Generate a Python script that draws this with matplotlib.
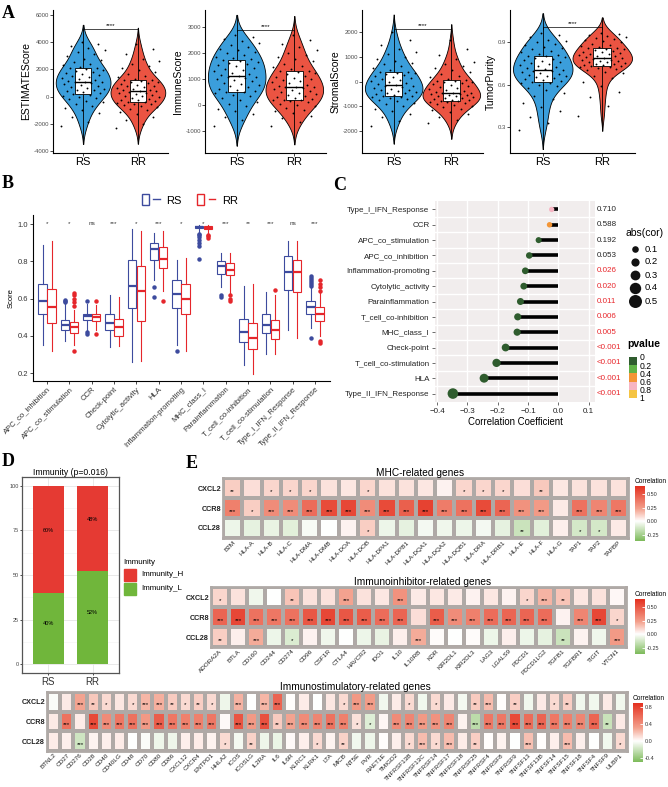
import numpy as np
import pandas as pd
import matplotlib
matplotlib.use('Agg')
import matplotlib.pyplot as plt
import seaborn as sns
from matplotlib.colors import LinearSegmentedColormap, Normalize, ListedColormap, BoundaryNorm
from matplotlib.patches import Patch, Rectangle
from matplotlib.lines import Line2D
from matplotlib.legend_handler import HandlerTuple
from matplotlib.cm import ScalarMappable
import matplotlib.transforms as mtransforms

plt.rcParams['font.family'] = ['Liberation Sans', 'DejaVu Sans']

# ---------------- Panel A data ----------------
estimate_rs = [-2200, -1900, -1500, -1200, -1000, -850, -700, -550, -400, -300, -200, -100, 0, 80, 150,
               200, 260, 320, 390, 450, 520, 580, 650, 710, 780, 850, 910, 980, 1040, 1080,
               1100, 1170, 1240, 1310, 1380, 1450, 1520, 1590, 1660, 1730, 1800, 1870, 1940, 2010, 2080,
               2100, 2200, 2300, 2420, 2550, 2680, 2800, 2950, 3100, 3250, 3400, 3550, 3700, 3850, 4000]
estimate_rr = [-2300, -2000, -1750, -1500, -1300, -1150, -1000, -900, -800, -720, -650, -580, -520, -470, -420,
               -400, -340, -280, -220, -160, -100, -40, 20, 80, 140, 200, 250, 300, 340, 380,
               400, 450, 510, 570, 630, 690, 750, 810, 870, 930, 990, 1050, 1100, 1150, 1190,
               1200, 1300, 1420, 1550, 1680, 1800, 1950, 2100, 2250, 2400, 2600, 2800, 3100, 3500, 3900]
immune_rs = [-800, -600, -450, -350, -250, -150, -50, 50, 130, 200, 270, 330, 390, 440, 480,
             500, 540, 580, 620, 670, 710, 760, 800, 850, 900, 940, 980, 1020, 1060, 1090,
             1100, 1150, 1200, 1240, 1290, 1340, 1390, 1430, 1480, 1530, 1580, 1620, 1660, 1700, 1740,
             1750, 1800, 1860, 1920, 1980, 2040, 2100, 2160, 2230, 2300, 2380, 2450, 2530, 2620, 2700]
immune_rr = [-800, -650, -520, -420, -330, -250, -180, -110, -50, 0, 50, 100, 140, 170, 190,
             200, 240, 270, 310, 350, 390, 430, 470, 510, 550, 590, 620, 650, 680, 695,
             700, 740, 780, 830, 870, 910, 960, 1000, 1040, 1090, 1130, 1170, 1210, 1250, 1290,
             1300, 1370, 1440, 1510, 1590, 1670, 1750, 1830, 1920, 2010, 2110, 2220, 2350, 2500, 2700]
stromal_rs = [-1800, -1600, -1450, -1300, -1200, -1100, -1000, -930, -870, -810, -760, -710, -670, -640, -615,
              -600, -570, -540, -510, -480, -450, -420, -390, -360, -330, -300, -260, -220, -190, -165,
              -150, -110, -70, -30, 10, 50, 90, 130, 170, 210, 250, 290, 330, 360, 390,
              400, 470, 540, 610, 690, 770, 850, 930, 1010, 1100, 1200, 1320, 1480, 1700, 2000]
stromal_rr = [-1700, -1550, -1420, -1320, -1240, -1170, -1110, -1050, -1000, -960, -920, -880, -850, -830, -810,
              -800, -770, -740, -710, -680, -650, -620, -600, -580, -560, -540, -520, -500, -480, -460,
              -450, -410, -370, -330, -290, -250, -210, -170, -130, -90, -60, -30, 0, 20, 40,
              50, 110, 170, 240, 310, 380, 450, 530, 610, 700, 800, 920, 1080, 1300, 1700]
purity_rs = [0.28, 0.33, 0.37, 0.41, 0.44, 0.47, 0.50, 0.52, 0.54, 0.56, 0.575, 0.59, 0.60, 0.61, 0.615,
             0.62, 0.627, 0.633, 0.64, 0.646, 0.652, 0.658, 0.665, 0.671, 0.677, 0.683, 0.69, 0.695, 0.70, 0.705,
             0.71, 0.717, 0.724, 0.731, 0.738, 0.745, 0.752, 0.759, 0.766, 0.773, 0.78, 0.787, 0.794, 0.80, 0.805,
             0.81, 0.82, 0.83, 0.84, 0.85, 0.86, 0.87, 0.88, 0.89, 0.90, 0.91, 0.92, 0.935, 0.95, 0.97]
purity_rr = [0.38, 0.45, 0.51, 0.55, 0.59, 0.62, 0.645, 0.665, 0.68, 0.693, 0.703, 0.711, 0.718, 0.723, 0.727,
             0.73, 0.734, 0.738, 0.742, 0.746, 0.75, 0.754, 0.758, 0.762, 0.766, 0.77, 0.774, 0.778, 0.782, 0.786,
             0.79, 0.795, 0.80, 0.805, 0.81, 0.815, 0.82, 0.825, 0.83, 0.835, 0.84, 0.845, 0.85, 0.855, 0.858,
             0.86, 0.868, 0.876, 0.884, 0.892, 0.90, 0.908, 0.916, 0.924, 0.932, 0.94, 0.948, 0.955, 0.962, 0.97]
a_names = ['ESTIMATEScore', 'ImmuneScore', 'StromalScore', 'TumorPurity']
a_ticks = [[-4000, -2000, 0, 2000, 4000, 6000], [-1000, 0, 1000, 2000, 3000],
           [-2000, -1000, 0, 1000, 2000], [0.3, 0.6, 0.9]]
a_sig_y = [5000, 2890, 2130, 1.01]

# ---------------- Panel B data (box summaries) ----------------
b_terms = ['APC_co_inhibition', 'APC_co_stimulation', 'CCR', 'Check-point', 'Cytolytic_activity', 'HLA',
           'Inflammation-promoting', 'MHC_class_I', 'Parainflammation', 'T_cell_co-inhibition',
           'T_cell_co-stimulation', 'Type_I_IFN_Response', 'Type_II_IFN_Response']
rs_med = [0.585, 0.46, 0.505, 0.47, 0.67, 0.865, 0.625, 0.985, 0.775, 0.42, 0.46, 0.745, 0.555]
rs_q1 = [0.515, 0.43, 0.485, 0.43, 0.55, 0.81, 0.55, 0.978, 0.735, 0.365, 0.415, 0.645, 0.52]
rs_q3 = [0.68, 0.485, 0.52, 0.515, 0.81, 0.90, 0.70, 0.99, 0.80, 0.49, 0.52, 0.83, 0.59]
rs_lo = [0.35, 0.37, 0.43, 0.34, 0.26, 0.70, 0.35, 0.96, 0.66, 0.245, 0.30, 0.43, 0.44]
rs_hi = [0.89, 0.57, 0.57, 0.62, 0.975, 0.955, 0.81, 0.995, 0.845, 0.67, 0.635, 0.91, 0.66]
rs_out = [[], [0.58, 0.59, 0.595], [0.41, 0.42, 0.59], [], [], [0.665, 0.61], [0.32],
          [0.95, 0.94, 0.93, 0.915, 0.90, 0.885, 0.815], [0.62, 0.61], [], [], [],
          [0.67, 0.68, 0.69, 0.70, 0.71, 0.72, 0.39]]
rr_med = [0.555, 0.45, 0.50, 0.445, 0.64, 0.815, 0.60, 0.98, 0.755, 0.39, 0.43, 0.745, 0.52]
rr_q1 = [0.47, 0.415, 0.48, 0.40, 0.48, 0.765, 0.52, 0.972, 0.725, 0.33, 0.385, 0.635, 0.48]
rr_q3 = [0.65, 0.475, 0.52, 0.49, 0.775, 0.88, 0.68, 0.99, 0.79, 0.47, 0.485, 0.81, 0.555]
rr_lo = [0.32, 0.35, 0.43, 0.345, 0.265, 0.64, 0.32, 0.955, 0.63, 0.195, 0.30, 0.39, 0.40]
rr_hi = [0.91, 0.54, 0.565, 0.61, 0.965, 0.965, 0.82, 0.995, 0.845, 0.68, 0.62, 0.91, 0.63]
rr_out = [[], [0.56, 0.58, 0.60, 0.62, 0.63, 0.32], [0.41, 0.585], [], [], [0.59], [],
          [0.945, 0.935, 0.925], [0.62, 0.60, 0.585], [], [0.645], [],
          [0.64, 0.66, 0.68, 0.70, 0.36, 0.37]]
b_sig = ['*', '*', 'ns', '***', '*', '***', '*', '*', '***', '**', '***', 'ns', '***']

# ---------------- Panel C data ----------------
c_terms = ['Type_I_IFN_Response', 'CCR', 'APC_co_stimulation', 'APC_co_inhibition', 'Inflammation-promoting',
           'Cytolytic_activity', 'Parainflammation', 'T_cell_co-inhibition', 'MHC_class_I', 'Check-point',
           'T_cell_co-stimulation', 'HLA', 'Type_II_IFN_Response']
c_cor = [-0.022, -0.029, -0.065, -0.096, -0.109, -0.114, -0.125, -0.134, -0.136, -0.174, -0.204, -0.245, -0.348]
c_pval = [0.710, 0.588, 0.192, 0.053, 0.026, 0.020, 0.011, 0.006, 0.005, 0.001, 0.001, 0.001, 0.001]
c_ptext = ['0.710', '0.588', '0.192', '0.053', '0.026', '0.020', '0.011', '0.006', '0.005',
           '<0.001', '<0.001', '<0.001', '<0.001']

# ---------------- Panel D data ----------------
d_groups = ['RS', 'RR']
d_high = [60, 48]
d_low = [40, 52]
d_high_txt = ['60%', '48%']
d_low_txt = ['40%', '52%']

# ---------------- Panel E data ----------------
e_rows = ['CXCL2', 'CCR8', 'CCL28']
mhc_genes = ['B2M', 'HLA-A', 'HLA-B', 'HLA-C', 'HLA-DMA', 'HLA-DMB', 'HLA-DOA', 'HLA-DOB', 'HLA-DPA1',
             'HLA-DPB1', 'HLA-DQA1', 'HLA-DQA2', 'HLA-DQB1', 'HLA-DRA', 'HLA-DRB1', 'HLA-E', 'HLA-F',
             'HLA-G', 'TAP1', 'TAP2', 'TAPBP']
mhc_cxcl2 = [0.12, 0.08, 0.10, 0.10, 0.10, 0.07, 0.06, 0.10, 0.07, 0.07, 0.06, 0.03, 0.10, 0.10, 0.10,
             0.08, 0.13, 0.06, 0.07, 0.07, 0.07]
mhc_ccr8 = [0.35, 0.12, 0.30, 0.30, 0.42, 0.55, 0.56, 0.30, 0.55, 0.47, 0.58, 0.36, 0.40, 0.55, 0.45,
            0.28, 0.25, 0.05, 0.40, 0.33, 0.38]
mhc_ccl28 = [-0.05, -0.07, -0.06, -0.08, -0.02, 0.0, 0.03, 0.12, -0.05, -0.07, -0.03, -0.04, -0.05, -0.03,
             -0.07, -0.15, -0.08, 0.04, -0.12, -0.12, 0.05]
mhc_cxcl2_sig = ['**', '', '*', '*', '*', '', '', '*', '', '', '', '', '*', '*', '*', '', '**', '', '', '', '']
mhc_ccr8_sig = ['***', '*', '***', '***', '***', '***', '***', '***', '***', '***', '***', '***', '***',
                '***', '***', '***', '***', '', '***', '***', '***']
mhc_ccl28_sig = ['', '', '', '', '', '', '', '*', '', '', '', '', '', '', '', '**', '', '', '*', '*', '']

inh_genes = ['ADORA2A', 'BTLA', 'CD160', 'CD244', 'CD274', 'CD96', 'CSF1R', 'CTLA4', 'HAVCR2', 'IDO1',
             'IL10', 'IL10RB', 'KDR', 'KIR2DL1', 'KIR2DL3', 'LAG3', 'LGALS9', 'PDCD1', 'PDCD1LG2', 'TGFB1',
             'TGFBR1', 'TIGIT', 'VTCN1']
inh_cxcl2 = [0.10, 0.07, -0.04, 0.0, 0.14, 0.07, 0.07, 0.22, 0.07, 0.06, 0.28, 0.05, 0.06, 0.05, 0.03,
             0.06, 0.03, 0.10, 0.18, 0.14, 0.06, 0.07, 0.02]
inh_ccr8 = [0.45, 0.56, 0.40, 0.38, 0.40, 0.50, 0.56, 0.50, 0.48, 0.42, 0.45, 0.08, 0.48, 0.30, 0.35,
            0.42, 0.45, 0.45, 0.42, 0.03, 0.33, 0.56, 0.10]
inh_ccl28 = [0.12, 0.04, 0.20, -0.05, -0.10, 0.03, -0.04, 0.0, -0.05, -0.06, 0.04, 0.20, 0.01, 0.0, 0.01,
             -0.05, 0.04, -0.05, -0.07, -0.15, 0.03, -0.04, 0.25]
inh_cxcl2_sig = ['*', '', '', '', '**', '', '', '***', '', '', '***', '', '', '', '', '', '', '*', '***',
                 '**', '', '', '']
inh_ccr8_sig = ['***', '***', '***', '***', '***', '***', '***', '***', '***', '***', '***', '', '***',
                '***', '***', '***', '***', '***', '***', '', '***', '***', '*']
inh_ccl28_sig = ['**', '', '***', '', '*', '', '', '', '', '', '', '***', '', '', '', '', '', '', '',
                 '**', '', '', '***']

stim_genes = ['BTNL2', 'CD27', 'CD276', 'CD28', 'CD40', 'CD40LG', 'CD48', 'CD70', 'CD80', 'CD86', 'CXCL12',
              'CXCR4', 'ENTPD1', 'HHLA2', 'ICOS', 'ICOSLG', 'IL2RA', 'IL6', 'IL6R', 'KLRC1', 'KLRK1', 'LTA',
              'MICB', 'NT5E', 'PVR', 'RAET1E', 'TMIGD2', 'TNFRSF13B', 'TNFRSF13C', 'TNFRSF14', 'TNFRSF17',
              'TNFRSF18', 'TNFRSF25', 'TNFRSF4', 'TNFRSF8', 'TNFRSF9', 'TNFSF13', 'TNFSF13B', 'TNFSF14',
              'TNFSF15', 'TNFSF18', 'TNFSF4', 'TNFSF9', 'ULBP1']
stim_cxcl2 = [-0.02, 0.07, 0.30, 0.18, 0.12, 0.08, 0.12, 0.24, 0.26, 0.17, 0.12, 0.16, 0.12, -0.06, 0.25,
              0.0, 0.24, 0.62, 0.01, 0.06, 0.0, 0.08, 0.12, 0.35, 0.33, -0.05, 0.06, 0.12, -0.05, 0.12,
              0.07, -0.04, 0.17, 0.22, 0.01, 0.16, -0.05, 0.07, 0.12, 0.16, -0.05, -0.05, 0.07, -0.05]
stim_ccr8 = [0.07, 0.55, 0.06, 0.75, 0.42, 0.52, 0.55, 0.35, 0.65, 0.52, 0.48, 0.48, 0.52, 0.02, 0.70,
             0.35, 0.72, 0.17, 0.30, 0.42, 0.45, 0.55, 0.48, 0.10, -0.12, 0.03, 0.42, 0.45, 0.35, 0.38,
             0.45, 0.04, -0.25, 0.52, 0.52, 0.75, 0.58, 0.62, 0.52, 0.48, 0.45, 0.62, -0.20, 0.07]
stim_ccl28 = [0.06, 0.05, -0.18, 0.04, 0.05, 0.06, 0.0, -0.02, -0.06, -0.06, 0.05, 0.06, 0.04, 0.12, -0.04,
              0.15, -0.06, -0.07, 0.02, 0.05, 0.12, 0.04, 0.15, -0.05, -0.06, 0.01, 0.05, 0.12, 0.22, 0.12,
              0.22, 0.06, 0.16, 0.01, 0.04, 0.0, 0.21, 0.01, 0.05, 0.22, 0.05, 0.0, -0.05, 0.12]
stim_cxcl2_sig = ['', '', '***', '**', '*', '', '*', '***', '***', '**', '*', '**', '*', '', '***', '',
                  '***', '***', '', '', '', '', '*', '***', '***', '', '', '*', '', '*', '', '', '**',
                  '***', '', '**', '', '', '*', '**', '', '', '', '']
stim_ccr8_sig = ['', '***', '', '***', '***', '***', '***', '***', '***', '***', '***', '***', '***', '',
                 '***', '***', '***', '**', '***', '***', '***', '***', '***', '*', '*', '', '***', '***',
                 '***', '***', '***', '', '***', '***', '***', '***', '***', '***', '***', '***', '***',
                 '***', '**', '']
stim_ccl28_sig = ['', '', '***', '', '', '', '', '', '', '', '', '', '', '*', '', '**', '', '', '', '',
                  '*', '', '**', '', '', '', '', '*', '***', '*', '***', '', '**', '', '', '', '***', '',
                  '', '***', '', '', '', '*']

# ---------------- layout helpers ----------------
W, H = 668, 787
fig = plt.figure(figsize=(W / 100, H / 100), dpi=100)


def box(l, t, r, b):
    return [l / W, 1 - b / H, (r - l) / W, (b - t) / H]


a_blue, a_red = '#3B9EDB', '#EB5442'
b_blue, b_red = '#3D4B9E', '#E5262B'
grid_gray = '#AFA9A6'

# ---------------- Panel A ----------------
a_pos = [(53, 10, 168, 153), (205, 10, 326, 153), (362, 10, 483, 153), (510, 10, 635, 153)]
a_ylim = [(-4150, 6370), (-1850, 3650), (-2900, 2900), (0.115, 1.13)]
a_rs = [estimate_rs, immune_rs, stromal_rs, purity_rs]
a_rr = [estimate_rr, immune_rr, stromal_rr, purity_rr]
for k in range(4):
    ax = fig.add_axes(box(*a_pos[k]))
    rs, rr = a_rs[k], a_rr[k]
    df = pd.DataFrame({'grp': ['RS'] * len(rs) + ['RR'] * len(rr), 'val': rs + rr})
    sns.violinplot(data=df, x='grp', y='val', hue='grp', order=['RS', 'RR'], hue_order=['RS', 'RR'],
                   palette={'RS': a_blue, 'RR': a_red}, saturation=1, inner=None, cut=2, width=1.0,
                   density_norm='width', linewidth=0.6, linecolor='black', legend=False, ax=ax)
    for pc in list(ax.collections):
        verts = pc.get_paths()[0].vertices
        pos = int(round(verts[:, 0].mean()))
        ax.vlines(pos, verts[:, 1].min(), verts[:, 1].max(), color='black', lw=0.6, zorder=2)
    ax.boxplot([rs, rr], positions=[0, 1], widths=0.3, whis=0, showfliers=False, showcaps=False,
               patch_artist=True, manage_ticks=False, zorder=3,
               boxprops=dict(facecolor='white', edgecolor='black', linewidth=0.6),
               medianprops=dict(color='black', linewidth=1.0),
               whiskerprops=dict(linewidth=0))
    for i, vals in enumerate([rs, rr]):
        jit = ((np.arange(len(vals)) * 0.618034) % 1.0 - 0.5) * 0.8
        ax.scatter(i + jit, vals, s=1.8, color='black', lw=0, zorder=4)
    lo, hi = a_ylim[k]
    span = hi - lo
    y0 = a_sig_y[k]
    ax.plot([0, 0, 1, 1], [y0 - 0.012 * span, y0, y0, y0 - 0.012 * span], color='black', lw=0.5)
    ax.text(0.5, y0 + 0.004 * span, '****', ha='center', va='bottom', fontsize=4.5)
    ax.set_xlim(-0.55, 1.55)
    ax.set_ylim(lo, hi)
    ax.set_yticks(a_ticks[k])
    ax.set_yticklabels([str(t) for t in a_ticks[k]])
    ax.set_xticks([0, 1])
    ax.set_xticklabels(['RS', 'RR'], fontsize=8)
    ax.set_xlabel('')
    ax.set_ylabel(a_names[k], fontsize=7.5, labelpad=1.5)
    for s in ['top', 'right']:
        ax.spines[s].set_visible(False)
    for s in ['left', 'bottom']:
        ax.spines[s].set_linewidth(0.8)
    ax.tick_params(axis='y', labelsize=4.3, labelcolor='#4D4D4D', length=2, width=0.5, pad=1)
    ax.tick_params(axis='x', length=2, width=0.5, pad=1)

# ---------------- Panel B ----------------
axb = fig.add_axes(box(33, 215, 330, 381))
xs = np.arange(len(b_terms))


def make_stats(med, q1, q3, lo, hi, out):
    return [dict(med=m, q1=a, q3=b, whislo=l, whishi=h, fliers=f)
            for m, a, b, l, h, f in zip(med, q1, q3, lo, hi, out)]


for stats, off, col in [(make_stats(rs_med, rs_q1, rs_q3, rs_lo, rs_hi, rs_out), -0.2, b_blue),
                        (make_stats(rr_med, rr_q1, rr_q3, rr_lo, rr_hi, rr_out), 0.2, b_red)]:
    axb.bxp(stats, positions=xs + off, widths=0.38, patch_artist=True, showcaps=False, manage_ticks=False,
            boxprops=dict(facecolor='white', edgecolor=col, linewidth=0.8),
            medianprops=dict(color=col, linewidth=1.6),
            whiskerprops=dict(color=col, linewidth=0.8),
            flierprops=dict(marker='o', markerfacecolor=col, markeredgecolor=col, markersize=2.2))
for i, s in enumerate(b_sig):
    axb.text(i, 0.998, s, ha='center', va='baseline', fontsize=4.6, color='#333333')
axb.set_xlim(-0.63, 12.67)
axb.set_ylim(0.157, 1.05)
axb.set_yticks([0.2, 0.4, 0.6, 0.8, 1.0])
axb.set_yticklabels(['0.2', '0.4', '0.6', '0.8', '1.0'])
axb.set_xticks(xs)
axb.set_xticklabels(b_terms, rotation=45, ha='right', rotation_mode='anchor', fontsize=5.6)
axb.set_ylabel('Score', fontsize=5.5, labelpad=2)
for s in ['top', 'right']:
    axb.spines[s].set_visible(False)
axb.tick_params(axis='both', labelsize=5.5, length=2, width=0.5, pad=1.5, labelcolor='#333333')
axb.tick_params(axis='x', labelsize=5.6)
fig.legend(handles=[(Patch(facecolor='white', edgecolor=b_blue, lw=1.0), Line2D([], [], color=b_blue, lw=1.0)),
                    (Patch(facecolor='white', edgecolor=b_red, lw=1.0), Line2D([], [], color=b_red, lw=1.0))],
           labels=['RS', 'RR'], handler_map={tuple: HandlerTuple(ndivide=None)}, loc='center',
           bbox_to_anchor=(190 / W, 1 - 200 / H), ncol=2, frameon=False, fontsize=8,
           handlelength=1.6, handleheight=1.1, columnspacing=1.4, handletextpad=0.6)

# ---------------- Panel C ----------------
p_cmap = ListedColormap(['#2F5C2E', '#5FB246', '#F39536', '#F7B5C3', '#F5C443'])
p_norm = BoundaryNorm([0, 0.2, 0.4, 0.6, 0.8, 1.0], 5)


def dot_size(v):
    d_px = 5 + 16 * abs(v)
    return (d_px * 0.72) ** 2


axc = fig.add_axes(box(435, 201, 595, 402))
axc.set_facecolor('#F1EDED')
n_c = len(c_terms)
ys = np.arange(n_c)[::-1]
for v in [-0.4, -0.3, -0.2, -0.1, 0.0, 0.1]:
    axc.axvline(v, color='white', lw=1.0, zorder=0.5)
for yy in np.arange(n_c - 1) + 0.5:
    axc.axhline(yy, color='white', lw=1.0, zorder=0.5)
axc.hlines(ys, 0, c_cor, color='black', lw=2.6, zorder=2)
axc.scatter(c_cor, ys, s=[dot_size(v) for v in c_cor], c=c_pval, cmap=p_cmap, norm=p_norm, lw=0, zorder=3)
axc.set_xlim(-0.407, 0.121)
axc.set_ylim(-0.55, n_c - 0.45)
axc.set_yticks(ys)
axc.set_yticklabels(c_terms)
axc.set_xticks([-0.4, -0.3, -0.2, -0.1, 0.0, 0.1])
axc.set_xticklabels(['\u22120.4', '\u22120.3', '\u22120.2', '\u22120.1', '0.0', '0.1'])
axc.set_xlabel('Correlation Coefficient', fontsize=6.9, labelpad=2)
for s in axc.spines.values():
    s.set_visible(False)
axc.tick_params(axis='both', labelsize=5.8, length=2, width=0.5, color='#333333', pad=2, labelcolor='#222222')
trans = mtransforms.blended_transform_factory(axc.transAxes, axc.transData)
for y, txt, p in zip(ys, c_ptext, c_pval):
    axc.text(1.012, y, txt, transform=trans, ha='left', va='center', fontsize=5.8,
             color='#E8262B' if p < 0.05 else '#222222', clip_on=False)

pcax = fig.add_axes(box(629, 357, 637, 398))
pcb = fig.colorbar(ScalarMappable(norm=p_norm, cmap=p_cmap), cax=pcax, ticks=[0, 0.2, 0.4, 0.6, 0.8, 1.0])
pcb.outline.set_visible(False)
pcax.set_yticklabels(['0', '0.2', '0.4', '0.6', '0.8', '1'])
pcax.invert_yaxis()
pcax.tick_params(length=0, labelsize=6.2, pad=2)

# ---------------- Panel D ----------------
axd = fig.add_axes(box(22, 477, 119, 673))
dx = np.arange(1, len(d_groups) + 1)
d_green, d_redc = '#70B63B', '#E53A33'
axd.bar(dx, d_low, width=0.72, color=d_green, zorder=2)
axd.bar(dx, d_high, bottom=d_low, width=0.72, color=d_redc, zorder=2)
for x, lo_v, hi_v, lt, ht in zip(dx, d_low, d_high, d_low_txt, d_high_txt):
    axd.text(x, lo_v / 2 + 3, lt, ha='center', va='center', fontsize=4.0, zorder=3)
    axd.text(x, lo_v + hi_v / 2 + 5, ht, ha='center', va='center', fontsize=4.0, zorder=3)
axd.set_xlim(0.4, 2.6)
axd.set_ylim(-5, 105)
axd.set_yticks([0, 25, 50, 75, 100])
axd.set_yticks([12.5, 37.5, 62.5, 87.5], minor=True)
axd.set_xticks(dx)
axd.set_xticklabels(d_groups, fontsize=7)
axd.grid(True, which='major', color='#E5E5E5', lw=0.6, zorder=0)
axd.grid(True, which='minor', axis='y', color='#F2F2F2', lw=0.4, zorder=0)
axd.set_axisbelow(True)
for s in axd.spines.values():
    s.set_color('#555555')
    s.set_linewidth(0.9)
axd.tick_params(axis='y', which='major', labelsize=4.0, length=1.5, width=0.5, pad=1, labelcolor='#444444')
axd.tick_params(axis='y', which='minor', length=0)
axd.tick_params(axis='x', length=1.5, width=0.5, pad=1.5, labelcolor='#333333')
axd.set_title('Immunity (p=0.016)', fontsize=6.2, pad=1.5)

# ---------------- Panel E ----------------
e_green, e_red = '#7CBA59', '#E4301F'


def make_cmap(vmin, vmax):
    f = -vmin / (vmax - vmin)
    return LinearSegmentedColormap.from_list(
        'corr', [(0, e_green), (f, 'white'), (f + 0.35 * (1 - f), '#F3A08C'), (1, e_red)])


def heatmap(pos, genes, rows, sigs, vmin, vmax, cpos, cticks, clabels):
    ax = fig.add_axes(box(*pos))
    cmap = make_cmap(vmin, vmax)
    norm = Normalize(vmin, vmax)
    ax.pcolormesh(np.array(rows), cmap=cmap, norm=norm, edgecolors=grid_gray, linewidth=1.5)
    ax.set_xlim(0, len(genes))
    ax.set_ylim(len(rows), 0)
    for i in range(len(rows)):
        for j in range(len(genes)):
            if sigs[i][j]:
                ax.text(j + 0.5, i + 0.66, sigs[i][j], ha='center', va='center', fontsize=4.5)
    ax.set_yticks(np.arange(len(rows)) + 0.5)
    ax.set_yticklabels(e_rows, fontsize=5.2, fontweight='bold', color='#222222')
    ax.set_xticks(np.arange(len(genes)) + 0.5)
    ax.set_xticklabels(genes, rotation=45, ha='right', rotation_mode='anchor', fontsize=4.6, color='#222222')
    ax.tick_params(length=0, pad=1.5)
    ax.tick_params(axis='x', pad=1.2)
    for s in ax.spines.values():
        s.set_color(grid_gray)
        s.set_linewidth(2.0)
    cax = fig.add_axes(box(*cpos))
    cb = fig.colorbar(ScalarMappable(norm=norm, cmap=cmap), cax=cax, ticks=cticks)
    cb.outline.set_visible(False)
    cax.set_yticklabels(clabels)
    cax.tick_params(labelsize=4.0, length=2.5, color='white', direction='in', width=0.6, pad=1.5,
                    labelcolor='#333333')
    cax.set_title('Correlation', fontsize=4.7, loc='left', pad=2)
    return ax


heatmap((223, 478, 628, 538), mhc_genes, [mhc_cxcl2, mhc_ccr8, mhc_ccl28],
        [mhc_cxcl2_sig, mhc_ccr8_sig, mhc_ccl28_sig], -0.37, 0.65,
        (635, 486, 645, 541), [-0.25, 0.0, 0.25, 0.5], ['-0.25', '0.00', '0.25', '0.50'])
heatmap((211, 587, 626, 647), inh_genes, [inh_cxcl2, inh_ccr8, inh_ccl28],
        [inh_cxcl2_sig, inh_ccr8_sig, inh_ccl28_sig], -0.37, 0.65,
        (635, 599, 645, 654), [-0.25, 0.0, 0.25, 0.5], ['-0.25', '0.00', '0.25', '0.50'])
heatmap((47, 692, 627, 751), stim_genes, [stim_cxcl2, stim_ccr8, stim_ccl28],
        [stim_cxcl2_sig, stim_ccr8_sig, stim_ccl28_sig], -0.49, 0.89,
        (633, 703, 643, 762), [-0.4, 0.0, 0.4, 0.8], ['-0.4', '0.0', '0.4', '0.8'])

# ---------------- overlay: panel letters, titles, legends ----------------
ov = fig.add_axes([0, 0, 1, 1])
ov.set_xlim(0, W)
ov.set_ylim(H, 0)
ov.axis('off')
for letter, x, y in [('A', 2, 13), ('B', 2, 184), ('C', 333, 186), ('D', 2, 462), ('E', 186, 463)]:
    ov.text(x, y, letter, fontsize=13, fontweight='bold', family='Liberation Serif', ha='left', va='center')

ov.text(420, 473, 'MHC-related genes', fontsize=7.3, ha='center', va='center')
ov.text(423, 582, 'Immunoinhibitor-related genes', fontsize=7.3, ha='center', va='center')
ov.text(355, 687, 'Immunostimulatory-related genes', fontsize=7.3, ha='center', va='center')

# abs(cor) size legend
ov.text(625, 233, 'abs(cor)', fontsize=7.5, ha='left', va='center')
for v, y in zip([0.1, 0.2, 0.3, 0.4, 0.5], [249, 262, 275, 288, 301]):
    ov.scatter([635], [y], s=dot_size(v), color='#111111', lw=0)
    ov.text(645, y, str(v), fontsize=6.8, ha='left', va='center')
ov.text(627, 344, 'pvalue', fontsize=7.5, fontweight='bold', ha='left', va='center')

# Immunity legend
ov.text(123, 562, 'Immunity', fontsize=5.8, ha='left', va='center')
ov.add_patch(Rectangle((124, 569), 12, 12, color=d_redc))
ov.add_patch(Rectangle((124, 583), 12, 12, color=d_green))
ov.text(141, 575, 'Immunity_H', fontsize=5.8, ha='left', va='center')
ov.text(141, 589, 'Immunity_L', fontsize=5.8, ha='left', va='center')

fig.savefig('out.png', dpi=100)
